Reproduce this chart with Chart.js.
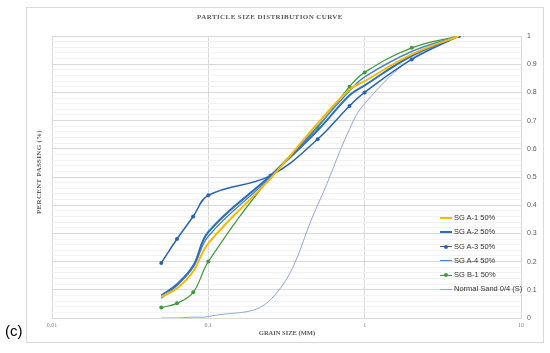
<!DOCTYPE html>
<html>
<head>
<meta charset="utf-8">
<script src="https://cdn.jsdelivr.net/npm/chart.js@4.4.0/dist/chart.umd.min.js"></script>
<style>
  body { margin: 0; background: #fff; }
  #wrap { position: relative; width: 550px; height: 353px; overflow: hidden; }
  #frame { position: absolute; left: 26px; top: 7px; width: 516px; height: 334px; border: 1px solid #d9d9d9; }
  #psd { position: absolute; left: 0; top: 0; }
  .txt { position: absolute; white-space: nowrap; }
  #title { left: 270px; top: 13px; transform: translateX(-50%); font: bold 7px "Liberation Serif", serif; letter-spacing: 0.4px; color: #595959; }
  #xtitle { left: 287px; top: 329px; transform: translateX(-50%); font: bold 6.5px "Liberation Serif", serif; color: #595959; }
  #ytitle { left: 39px; top: 172px; transform: translate(-50%, -50%) rotate(-90deg); font: bold 7px "Liberation Serif", serif; letter-spacing: 0.3px; color: #595959; }
  #legend { left: 440px; top: 212px; font: 7.5px "Liberation Sans", Arial, sans-serif; color: #333; }
  #legend .row { position: relative; height: 14.3px; line-height: 12px; padding-left: 14px; }
  #legend .ln { position: absolute; left: 0; top: 6px; width: 12px; }
  #legend .dot { position: absolute; left: 4px; top: 4px; width: 4px; height: 4px; border-radius: 50%; }
  #tag { left: 5px; top: 322px; font: 15px "Liberation Sans", Arial, sans-serif; color: #000; }
</style>
</head>
<body>
<div id="wrap">
  <div id="frame"></div>
  <canvas id="psd" width="550" height="353"></canvas>
  <div class="txt" id="title">PARTICLE SIZE DISTRIBUTION CURVE</div>
  <div class="txt" id="xtitle">GRAIN SIZE (MM)</div>
  <div class="txt" id="ytitle">PERCENT PASSING (%)</div>
  <div class="txt" id="legend"></div>
  <div class="txt" id="tag">(c)</div>
</div>
<script>
// sieve sizes (mm)
const sizes = [0.05, 0.063, 0.08, 0.1, 0.25, 0.5, 0.8, 1, 2, 4];

// fraction passing per mix
const sgA1 = [0.075, 0.105, 0.165, 0.265, 0.495, 0.69, 0.81, 0.84, 0.935, 1.0];
const sgA2 = [0.08, 0.12, 0.185, 0.305, 0.505, 0.665, 0.79, 0.825, 0.93, 1.0];
const sgA3 = [0.195, 0.28, 0.36, 0.435, 0.505, 0.634, 0.752, 0.80, 0.917, 1.0];
const sgA4 = [0.07, 0.115, 0.18, 0.29, 0.5, 0.68, 0.805, 0.855, 0.945, 1.0];
const sgB1 = [0.037, 0.052, 0.091, 0.20, 0.50, 0.675, 0.82, 0.871, 0.958, 1.0];
const normalSand = [0, 0, 0.003, 0.005, 0.065, 0.40, 0.67, 0.76, 0.92, 1.0];

const seriesLabels = ['SG A-1 50%', 'SG A-2 50%', 'SG A-3 50%', 'SG A-4 50%', 'SG B-1 50%', 'Normal Sand 0/4 (S)'];
const xTicks = [0.01, 0.1, 1, 10];

const pts = (vals) => vals.map((v, i) => ({ x: sizes[i], y: v }));

const styles = [
  { color: '#F5B90A', width: 2, marker: false },
  { color: '#2E6FBA', width: 2, marker: false },
  { color: '#2A64B0', width: 1.5, marker: true },
  { color: '#4A86C8', width: 1.4, marker: false },
  { color: '#3E9A3A', width: 1.2, marker: true },
  { color: '#8EA6DA', width: 1, marker: false }
];
const values = [sgA1, sgA2, sgA3, sgA4, sgB1, normalSand];

const datasets = values.map((vals, i) => ({
  label: seriesLabels[i],
  data: pts(vals),
  borderColor: styles[i].color,
  backgroundColor: styles[i].color,
  borderWidth: styles[i].width,
  pointRadius: styles[i].marker ? 2 : 0,
  pointBorderWidth: 0,
  showLine: true,
  tension: 0.4,
  fill: false
}));

// legend
const legend = document.getElementById('legend');
seriesLabels.forEach((lab, i) => {
  const row = document.createElement('div');
  row.className = 'row';
  const ln = document.createElement('div');
  ln.className = 'ln';
  ln.style.borderTop = styles[i].width + 'px solid ' + styles[i].color;
  ln.style.top = (6 - styles[i].width / 2) + 'px';
  row.appendChild(ln);
  if (styles[i].marker) {
    const d = document.createElement('div');
    d.className = 'dot';
    d.style.background = styles[i].color;
    row.appendChild(d);
  }
  row.appendChild(document.createTextNode(lab));
  legend.appendChild(row);
});

new Chart(document.getElementById('psd'), {
  type: 'scatter',
  data: { datasets },
  options: {
    responsive: false,
    animation: false,
    layout: { padding: { left: 52, right: 9, top: 36, bottom: 23 } },
    plugins: { legend: { display: false }, tooltip: { enabled: false } },
    scales: {
      x: {
        type: 'logarithmic',
        min: 0.01,
        max: 10,
        afterBuildTicks: (scale) => { scale.ticks = xTicks.map(v => ({ value: v })); },
        afterFit: (scale) => { scale.height = 12; },
        ticks: {
          callback: (v) => String(v),
          font: { family: 'Liberation Serif', size: 6 },
          color: '#808080',
          padding: 4,
          maxRotation: 0
        },
        grid: { color: '#d9d9d9', drawTicks: false },
        border: { display: true, color: '#d9d9d9' }
      },
      y: {
        position: 'right',
        min: 0,
        max: 1,
        afterFit: (scale) => { scale.width = 20; },
        ticks: {
          stepSize: 0.02,
          autoSkip: false,
          callback: (v) => (Math.round(v * 50) % 5 === 0 ? String(Math.round(v * 10) / 10) : ''),
          font: { family: 'Liberation Sans', size: 7 },
          color: '#595959',
          padding: 6
        },
        grid: {
          drawTicks: false,
          color: (ctx) => (Math.round(ctx.tick.value * 50) % 5 === 0 ? '#d9d9d9' : '#f2f2f2')
        },
        border: { display: true, color: '#d9d9d9' }
      }
    }
  }
});
</script>
</body>
</html>
